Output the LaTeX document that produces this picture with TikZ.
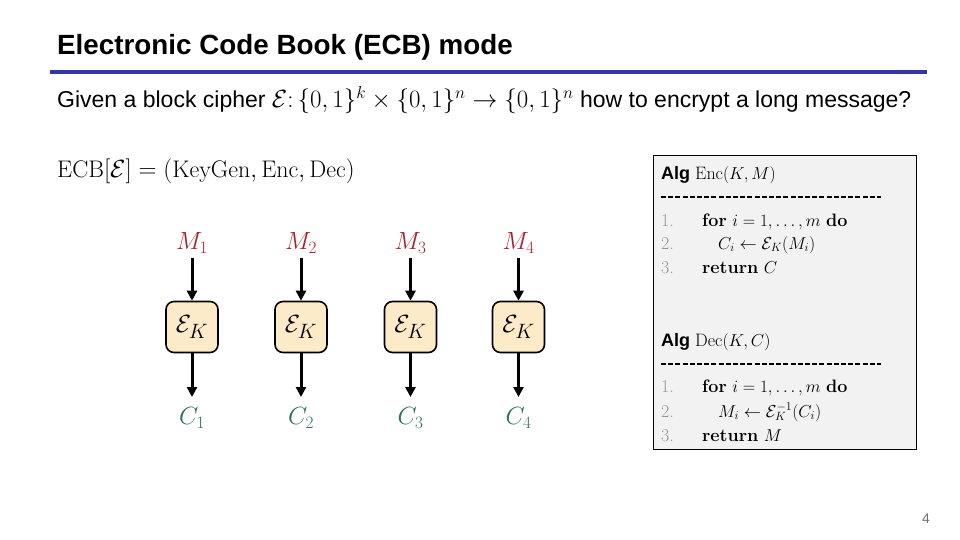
\documentclass[tikz,border=0pt]{standalone}
\usepackage{fontspec}
\setsansfont{Liberation Sans}
\usetikzlibrary{arrows.meta}
\definecolor{rulecol}{RGB}{51,54,170}
\definecolor{boxfill}{RGB}{253,234,200}
\definecolor{mred}{RGB}{170,30,45}
\definecolor{cteal}{RGB}{44,110,96}
\definecolor{panelfill}{RGB}{242,242,242}
\definecolor{numgray}{RGB}{150,150,150}
\definecolor{pagegray}{RGB}{110,110,110}
\tikzset{
  encbox/.style={draw=black, line width=1.6pt, fill=boxfill, rounded corners=8pt,
    minimum width=52pt, minimum height=51pt, inner sep=0pt, font=\fontsize{29}{32}\selectfont},
  mlab/.style={text=mred, font=\fontsize{25}{28}\selectfont, inner sep=0pt},
  clab/.style={text=cteal, font=\fontsize{25}{28}\selectfont, inner sep=0pt},
  flow/.style={line width=3pt, -{Triangle[length=10pt,width=10pt]}},
  algtxt/.style={anchor=base west, inner sep=0pt, font=\fontsize{18}{20}\selectfont},
  algnum/.style={anchor=base west, inner sep=0pt, text=numgray, font=\fontsize{18}{20}\selectfont},
  dashrule/.style={line width=1.1pt, dash pattern=on 5pt off 2.2pt}
}
\begin{document}
\begin{tikzpicture}[x=1pt,y=-1pt]
\useasboundingbox (0,0) rectangle (960,540);
% title
\node[anchor=base west, inner sep=0pt, font=\sffamily\bfseries\fontsize{27.8}{32}\selectfont] (title) at (57,55) {Electronic Code Book (ECB) mode};
\draw[rulecol, line width=4pt] (50,72) -- (927,72);
\node[anchor=base west, inner sep=0pt, font=\sffamily\fontsize{23}{26}\selectfont] (question) at (57,108)
  {Given a block cipher $\mathcal{E}\colon\{0,1\}^k\times\{0,1\}^n\rightarrow\{0,1\}^n$ how to encrypt a long message?};
\node[anchor=base west, inner sep=0pt, font=\fontsize{24}{26}\selectfont] (ecbdef) at (57,178)
  {$\mathrm{ECB}[\mathcal{E}] = (\mathrm{KeyGen}, \mathrm{Enc}, \mathrm{Dec})$};
% blocks
\foreach \i/\x in {1/192,2/301,3/410.5,4/518.5}{
  \node[mlab] (M\i) at (\x,243) {$M_{\i}$};
  \node[encbox] (E\i) at (\x,327) {$\mathcal{E}_K$};
  \node[clab] (C\i) at (\x,418) {$C_{\i}$};
  \coordinate (Mt\i) at (\x,258);
  \coordinate (Cb\i) at (\x,397);
  \draw[flow] (Mt\i) -- (E\i.north);
  \draw[flow] (E\i.south) -- (Cb\i);
}
% algorithm panel
\node[draw=black, line width=1.4pt, fill=panelfill, minimum width=263pt, minimum height=294pt, inner sep=0pt, anchor=north west] (panel) at (653,155) {};
\node[algtxt] (enchead) at (661,179) {\sffamily\bfseries Alg\/ \rmfamily\mdseries $\mathrm{Enc}(K,M)$};
\coordinate (ed1) at (661,197); \coordinate (ed2) at (881,197);
\draw[dashrule] (ed1) -- (ed2);
\node[algnum] (en1) at (661,226) {1.};
\node[algtxt] (el1) at (702,226) {\textbf{for} $i = 1, \ldots, m$ \textbf{do}};
\node[algnum] (en2) at (661,249) {2.};
\node[algtxt] (el2) at (718,249) {$C_i \leftarrow \mathcal{E}_K(M_i)$};
\node[algnum] (en3) at (661,273) {3.};
\node[algtxt] (el3) at (702,273) {\textbf{return} $C$};
\node[algtxt] (dechead) at (661,346) {\sffamily\bfseries Alg\/ \rmfamily\mdseries $\mathrm{Dec}(K,C)$};
\coordinate (dd1) at (661,364); \coordinate (dd2) at (881,364);
\draw[dashrule] (dd1) -- (dd2);
\node[algnum] (dn1) at (661,392) {1.};
\node[algtxt] (dl1) at (702,392) {\textbf{for} $i = 1, \ldots, m$ \textbf{do}};
\node[algnum] (dn2) at (661,417) {2.};
\node[algtxt] (dl2) at (718,417) {$M_i \leftarrow \mathcal{E}_K^{-1}(C_i)$};
\node[algnum] (dn3) at (661,441) {3.};
\node[algtxt] (dl3) at (702,441) {\textbf{return} $M$};
% page number
\node[anchor=base, inner sep=0pt, text=pagegray, font=\sffamily\fontsize{14}{16}\selectfont] (page) at (926,523) {4};
\end{tikzpicture}
\end{document}
